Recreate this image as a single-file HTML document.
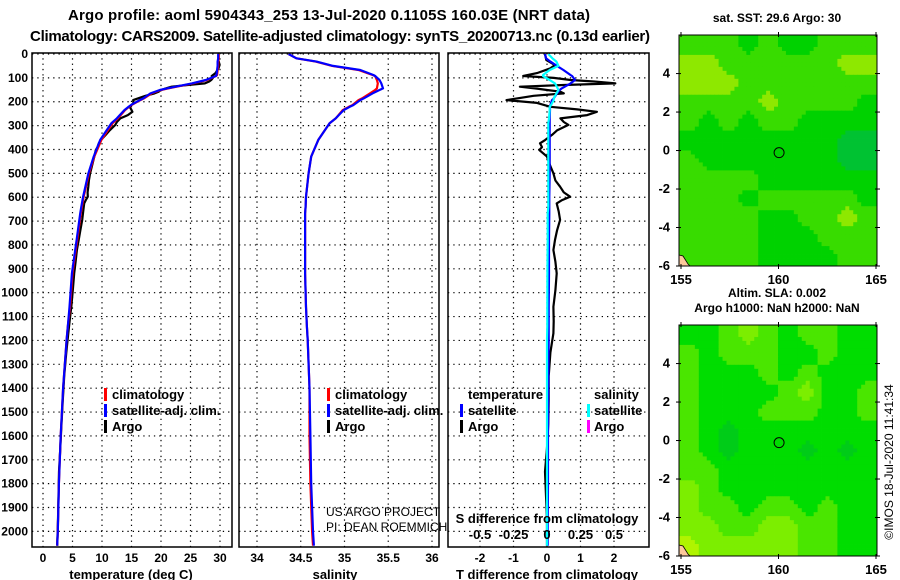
<!DOCTYPE html>
<html><head><meta charset="utf-8"><style>
html,body{margin:0;padding:0;background:#fff;}
svg{display:block;font-family:"Liberation Sans",Arial,sans-serif;}
.b{font-weight:bold;font-size:15px;}
.t{font-weight:bold;font-size:12px;}
.l{font-weight:bold;font-size:13px;}
.n{font-weight:normal;font-size:12px;}
</style></head><body>
<svg id="chart" width="900" height="580" viewBox="0 0 900 580" xmlns="http://www.w3.org/2000/svg"></svg>
<script>
// ---- data ----
const depthTicks = [0,100,200,300,400,500,600,700,800,900,1000,1100,1200,1300,1400,1500,1600,1700,1800,1900,2000];
const tempTicks = [0,5,10,15,20,25,30];
const salTicks = [34,34.5,35,35.5,36];
const tdiffTicks = [-2,-1,0,1,2];
const sdiffTicks = [-0.5,-0.25,0,0.25,0.5];
const sdiffTickLabels = ["-0.5","-0.25","0","0.25","0.5"];

const satDepth = [0,18,32,50,67,88,92,109,123,144,151,165,186,193,214,221,235,270,290,360,430,500,598,640,668,780,919,1060,1142,1198,1400,1600,1800,2000,2060];
const satTemp  = [29.7,29.7,29.6,29.6,29.5,29.4,29.3,27.6,25.2,21.0,19.8,18.2,17.0,16.4,14.9,14.5,13.8,12.5,11.6,9.7,8.6,7.7,6.8,6.5,6.3,5.7,4.9,4.5,4.2,4.0,3.4,3.0,2.7,2.5,2.4];
const climTemp = [29.8,29.8,29.7,29.7,29.6,29.5,29.3,27.8,25.4,21.2,20.0,18.4,17.1,16.5,15.0,14.6,13.9,12.7,11.8,9.9,8.7,7.8,6.9,6.6,6.4,5.8,5.0,4.6,4.2,4.0,3.4,3.0,2.7,2.5,2.4];
const satSal   = [34.36,34.45,34.68,34.87,35.18,35.33,35.35,35.40,35.42,35.44,35.40,35.32,35.22,35.18,35.10,35.06,34.99,34.90,34.83,34.70,34.62,34.59,34.56,34.555,34.55,34.55,34.55,34.56,34.57,34.58,34.60,34.61,34.62,34.64,34.65];
const climSal  = [34.36,34.45,34.67,34.86,35.16,35.32,35.35,35.37,35.38,35.37,35.35,35.29,35.20,35.16,35.09,35.05,34.98,34.90,34.83,34.70,34.62,34.59,34.56,34.555,34.55,34.55,34.55,34.56,34.57,34.58,34.60,34.60,34.61,34.63,34.64];
const satTdiff = [-0.06,-0.03,0.1,0.3,0.49,0.7,0.75,0.84,0.7,0.44,0.38,0.3,0.2,0.15,0.1,0.09,0.09,0.08,0.08,0.08,0.08,0.08,0.07,0.07,0.07,0.06,0.06,0.05,0.05,0.05,0.04,0.03,0.03,0.02,0.02];
const satSdiff = [0.01,0.04,0.07,0.085,0.02,-0.03,-0.03,0.02,0.06,0.08,0.085,0.07,0.05,0.05,0.03,0.02,0.02,0.015,0.01,0.01,0.01,0.01,0.01,0.01,0.005,0.005,0.003,0.002,0.002,0.0,0.0,0.0,0.0,0.0,0.0];

const argoDepth = [0,25,46,60,80,92,100,109,115,123,130,137,145,151,158,165,175,193,205,221,232,242,256,270,285,297,320,339,360,374,390,402,430,470,500,530,556,580,598,612,626,660,695,740,779,821,870,919,990,1059,1120,1170,1250,1350,1450,1550,1650,1750,1850,1950,2060];
const argoTdiff = [-0.06,-0.02,0.24,0.1,-0.3,-0.71,0.2,0.7,1.4,2.04,0.5,-0.81,-0.3,0.0,0.4,0.5,-0.4,-1.21,-0.3,0.1,0.9,1.49,1.2,0.4,0.5,0.64,0.3,0.15,-0.05,-0.21,-0.15,-0.23,0.0,0.1,0.19,0.25,0.39,0.5,0.69,0.45,0.29,0.35,0.39,0.3,0.24,0.19,0.25,0.29,0.25,0.19,0.2,0.19,0.1,0.05,0.05,0.04,0.0,-0.06,-0.03,0.0,0.0];

// map grids (rows north->south, cols west->east), level values
const sstGrid = [
[1,1,1,0,1,0,0,1,1,1],[2,2,1,1,1,1,1,1,2,2],[2,2,2,1,1,1,1,1,1,1],[1,1,1,1,2,1,1,1,1,0],
[1,0,1,0,1,1,0,0,0,0],[0,0,0,0,0,0,0,0,-1,-1],[1,0,0,0,0,0,0,0,-1,-1],[1,1,1,1,0,0,0,0,0,0],
[1,1,1,0,1,1,1,1,1,0],[1,1,1,1,0,0,1,1,2,1],[1,1,1,1,0,0,0,1,1,1],[1,1,1,1,0,0,0,0,1,1]];
const slaGrid = [
[0,0,1,2,1,0,1,1,0,0],[1,0,1,1,1,0,0,1,0,0],[1,0,0,0,1,0,1,0,0,0],[1,0,0,0,0,1,2,0,0,1],
[1,0,0,0,1,1,1,0,0,1],[1,0,-1,0,0,0,0,0,0,0],[1,0,-1,0,0,0,-1,0,-1,0],[1,1,0,0,0,0,0,0,0,0],
[2,1,0,0,0,0,0,0,0,0],[2,1,1,0,1,1,0,1,0,0],[2,2,1,1,2,2,1,1,0,0],[3,2,2,2,2,2,1,1,0,0]];
const lonTicks = [155,160,165];
const latTicks = [4,2,0,-2,-4,-6];
const floatLon = 160.03, floatLat = -0.11;

// ---- helpers ----
const svg = document.getElementById('chart');
const NS = 'http://www.w3.org/2000/svg';
function mk(tag, attrs, parent){const e=document.createElementNS(NS,tag);for(const k in attrs)e.setAttribute(k,attrs[k]);(parent||svg).appendChild(e);return e;}
function txt(s,x,y,cls,anchor,parent){const e=mk('text',{x:x,y:y,class:cls||'t','text-anchor':anchor||'middle'},parent);e.textContent=s;return e;}
const Y = d => 54 + 0.2387*d;
const TOP=53, BOT=547;

function panel(name,x0,x1,X,ticks,labels,title,titleX){
  const g=mk('g',{});
  
  
  depthTicks.forEach(d=>{mk('line',{x1:x0,x2:x1,y1:Y(d),y2:Y(d),stroke:'#000','stroke-width':1.2,'stroke-dasharray':'1.3,4'},g);});
  ticks.forEach(v=>{mk('line',{x1:X(v),x2:X(v),y1:TOP,y2:BOT,stroke:'#000','stroke-width':1.2,'stroke-dasharray':'1.3,4'},g);});
  ticks.forEach((v,i)=>{txt(labels[i],X(v),562,'t','middle',g);});
  const tl=txt(title,titleX,579,'l','middle',g);
  
  
  return g;
}
function line(g,xs,ds,X,color,w,name){
  const p=xs.map((v,i)=>X(v).toFixed(1)+','+Y(ds[i]).toFixed(1)).join(' ');
  const e=mk('polyline',{points:p,fill:'none',stroke:color,'stroke-width':w,'stroke-linejoin':'round'},g);
  
  
}
function frame(g,x0,x1){mk('rect',{x:x0,y:TOP,width:x1-x0,height:BOT-TOP,fill:'none',stroke:'#000','stroke-width':1.5},g);}
function legMark(g,x,y,color){mk('rect',{x:x,y:y-11,width:3,height:13,fill:color},g);}

// titles
const t1=txt('Argo profile: aoml 5904343_253 13-Jul-2020 0.1105S 160.03E (NRT data)',329,20,'b');
t1.setAttribute('textLength','522');

const t2=txt('Climatology: CARS2009. Satellite-adjusted climatology: synTS_20200713.nc (0.13d earlier)',340,41,'b');
t2.setAttribute('textLength','620');


// depth labels
const dl=mk('g',{});


depthTicks.forEach(d=>{txt(String(d),28,Y(d)+4,'t','end',dl);});

function interp(xs,ds,d){for(let i=1;i<ds.length;i++){if(d<=ds[i]){const f=(d-ds[i-1])/(ds[i]-ds[i-1]);return xs[i-1]+f*(xs[i]-xs[i-1]);}}return xs[xs.length-1];}

// Panel 1 temperature
const XT = t => 43 + 5.9*t;
const p1=panel('temperature-panel',32,232,XT,tempTicks,tempTicks.map(String),'temperature (deg C)',131);
const argoTemp = argoDepth.map((d,i)=>interp(climTemp,satDepth,d)+argoTdiff[i]);
line(p1,argoTemp,argoDepth,XT,'#000',2.2,'argo-temperature-line');
line(p1,climTemp,satDepth,XT,'#f00',2.2,'climatology-temperature-line');
line(p1,satTemp,satDepth,XT,'#00f',2.2,'satellite-temperature-line');
frame(p1,32,232);
const lg1=mk('g',{},p1);
legMark(lg1,104,399,'#f00');txt('climatology',112,399,'l','start',lg1);
legMark(lg1,104,415,'#00f');txt('satellite-adj. clim.',112,415,'l','start',lg1);
legMark(lg1,104,431,'#000');txt('Argo',112,431,'l','start',lg1);

// Panel 2 salinity
const XS = s => 257 + 87.5*(s-34);
const p2=panel('salinity-panel',239,439,XS,salTicks,['34','34.5','35','35.5','36'],'salinity',335);
line(p2,climSal,satDepth,XS,'#f00',2.2,'climatology-salinity-line');
line(p2,satSal,satDepth,XS,'#00f',2.2,'satellite-salinity-line');
frame(p2,239,439);
const lg2=mk('g',{},p2);
legMark(lg2,327,399,'#f00');txt('climatology',335,399,'l','start',lg2);
legMark(lg2,327,415,'#00f');txt('satellite-adj. clim.',335,415,'l','start',lg2);
legMark(lg2,327,431,'#000');txt('Argo',335,431,'l','start',lg2);
const pi=mk('g',{},p2);
txt('US ARGO PROJECT',326,516,'n','start',pi);
txt('PI: DEAN ROEMMICH',326,531,'n','start',pi);

// Panel 3 differences
const XD = t => 547 + 33.5*t;
const XSD = s => 547 + 134*s;
const p3=panel('difference-panel',448,649,XD,tdiffTicks,tdiffTicks.map(String),'T difference from climatology',547);
line(p3,argoTdiff,argoDepth,XD,'#000',2.2,'argo-tdiff-line');
line(p3,satTdiff,satDepth,XD,'#00f',2.2,'satellite-tdiff-line');
line(p3,satSdiff,satDepth,XSD,'#0ff',2.2,'satellite-sdiff-line');
frame(p3,448,649);
const lg3=mk('g',{},p3);
txt('temperature',468,399,'l','start',lg3);
legMark(lg3,460,415,'#00f');txt('satellite',468,415,'l','start',lg3);
legMark(lg3,460,431,'#000');txt('Argo',468,431,'l','start',lg3);
txt('salinity',594,399,'l','start',lg3);
legMark(lg3,587,415,'#0ff');txt('satellite',594,415,'l','start',lg3);
legMark(lg3,587,431,'#f0f');txt('Argo',594,431,'l','start',lg3);
const sl=mk('g',{},p3);
txt('S difference from climatology',547,523,'l','middle',sl);
sdiffTicks.forEach((v,i)=>txt(sdiffTickLabels[i],XSD(v),539,'l','middle',sl));

// Maps (grid upsampled bilinearly for display, then quantised to colour levels)
function sampleGrid(grid,u,v){
  const rows=grid.length, cols=grid[0].length;
  const fx=Math.min(Math.max(u*cols-0.5,0),cols-1), fy=Math.min(Math.max(v*rows-0.5,0),rows-1);
  const x0=Math.floor(fx), y0=Math.floor(fy), x1=Math.min(x0+1,cols-1), y1=Math.min(y0+1,rows-1);
  const ax=fx-x0, ay=fy-y0;
  return grid[y0][x0]*(1-ax)*(1-ay)+grid[y0][x1]*ax*(1-ay)+grid[y1][x0]*(1-ax)*ay+grid[y1][x1]*ax*ay;
}
function map(name,grid,colors,yTop,yBot,title1,title2,tY){
  const g=mk('g',{});
  
  
  const x0=679,x1=877;
  const LX = lon => 681 + 19.5*(lon-155);
  const LY = lat => yTop + 2 + (5.9-lat)*(yBot-yTop-2)/11.9;
  const NC=50, NR=58;
  const cw=(x1-x0)/NC, ch=(yBot-yTop)/NR;
  for(let r=0;r<NR;r++)for(let c=0;c<NC;c++){
    const v=Math.round(sampleGrid(grid,(c+0.5)/NC,(r+0.5)/NR));
    const cell=mk('rect',{x:(x0+c*cw).toFixed(2),y:(yTop+r*ch).toFixed(2),width:(cw+0.4).toFixed(2),height:(ch+0.4).toFixed(2),fill:colors[v+1]},g);
    
    
  }
  mk('path',{d:`M${x0},${yBot-11} L${x0+4},${yBot-10} L${x0+9},${yBot-2} L${x0+11},${yBot} L${x0},${yBot} Z`,fill:'#fcc89b',stroke:'#000','stroke-width':0.8},g);
  const ci=mk('circle',{cx:LX(floatLon),cy:LY(floatLat),r:5,fill:'none',stroke:'#000','stroke-width':1},g);
  
  
  mk('rect',{x:x0,y:yTop,width:x1-x0,height:yBot-yTop,fill:'none',stroke:'#000','stroke-width':1},g);
  lonTicks.forEach(l=>{mk('line',{x1:LX(l),x2:LX(l),y1:yTop-3,y2:yTop+2,stroke:'#000'},g);mk('line',{x1:LX(l),x2:LX(l),y1:yBot-2,y2:yBot+3,stroke:'#000'},g);txt(String(l),LX(l),yBot+18,'l','middle',g);});
  latTicks.forEach(l=>{mk('line',{x1:x0-3,x2:x0+2,y1:LY(l),y2:LY(l),stroke:'#000'},g);mk('line',{x1:x1-2,x2:x1+3,y1:LY(l),y2:LY(l),stroke:'#000'},g);txt(String(l),670,LY(l)+4,'l','end',g);});
  txt(title1,777,tY,'t','middle',g);
  if(title2) txt(title2,777,tY+15,'t','middle',g);
}
map('sst-map',sstGrid,['#00c232','#00d200','#38dc00','#8ee800'],35,266,'sat. SST: 29.6 Argo: 30',null,22);
map('sla-map',slaGrid,['#00cc18','#00dd00','#4ae600','#7cee00','#b0f400'],325,556,'Altim. SLA: 0.002','Argo h1000: NaN h2000: NaN',297);

const cr=txt('©IMOS 18-Jul-2020 11:41:34',0,0,'n','middle');
cr.setAttribute('font-size','13');
cr.setAttribute('transform','translate(893,462) rotate(-90)');


</script>
</body></html>
